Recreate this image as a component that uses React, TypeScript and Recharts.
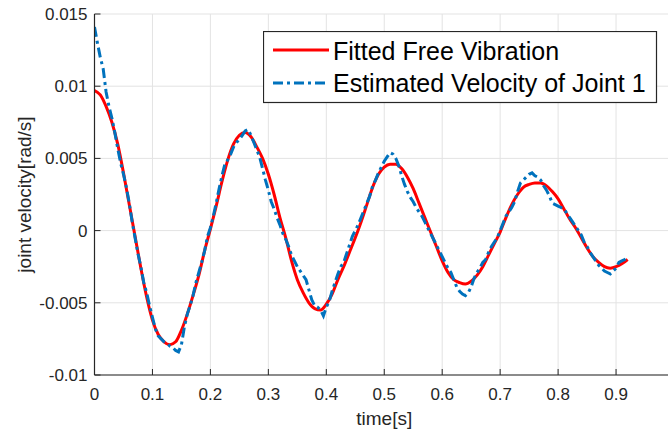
import React from 'react';
import { LineChart, Line, XAxis, YAxis, CartesianGrid, Legend, Label } from 'recharts';

const fitTime = [
  0, 0.01, 0.02, 0.03, 0.04, 0.05, 0.06, 0.07, 0.08, 0.09,
  0.1, 0.11, 0.12, 0.13, 0.14, 0.15, 0.16, 0.17, 0.18, 0.19,
  0.2, 0.21, 0.22, 0.23, 0.24, 0.25, 0.26, 0.27, 0.28, 0.29,
  0.3, 0.31, 0.32, 0.33, 0.34, 0.35, 0.36, 0.37, 0.38, 0.39,
  0.4, 0.41, 0.42, 0.43, 0.44, 0.45, 0.46, 0.47, 0.48, 0.49,
  0.5, 0.51, 0.52, 0.53, 0.54, 0.55, 0.56, 0.57, 0.58, 0.59,
  0.6, 0.61, 0.62, 0.63, 0.64, 0.65, 0.66, 0.67, 0.68, 0.69,
  0.7, 0.71, 0.72, 0.73, 0.74, 0.75, 0.76, 0.77, 0.78, 0.79,
  0.8, 0.81, 0.82, 0.83, 0.84, 0.85, 0.86, 0.87, 0.88, 0.89,
  0.9, 0.91, 0.92,
];
const fitVelocity = [
  0.0097, 0.0094, 0.0086, 0.0075, 0.006, 0.004, 0.0018, -0.0004, -0.0026, -0.0046,
  -0.0062, -0.0072, -0.0077, -0.0079, -0.0077, -0.0069, -0.0058, -0.0045, -0.0031, -0.0014,
  0.0001, 0.0017, 0.0034, 0.0049, 0.006, 0.0066, 0.0068, 0.0065, 0.0058, 0.005,
  0.0039, 0.0025, 0.0009, -0.0005, -0.0021, -0.0034, -0.0043, -0.005, -0.0054, -0.0055,
  -0.0051, -0.0044, -0.0034, -0.0025, -0.0015, -0.0005, 0.0006, 0.0018, 0.003, 0.0039,
  0.0044, 0.0046, 0.0046, 0.0043, 0.0037, 0.0029, 0.0019, 0.0009, -0.0001, -0.0011,
  -0.0021, -0.0029, -0.0034, -0.0036, -0.0037, -0.0035, -0.0031, -0.0025, -0.0017, -0.0009,
  -0.0001, 0.0009, 0.0018, 0.0025, 0.003, 0.0032, 0.0033, 0.0033, 0.0031, 0.0027,
  0.0022, 0.0015, 0.0008, 0.0002, -0.0005, -0.0012, -0.0018, -0.0022, -0.0025, -0.0026,
  -0.0025, -0.0023, -0.002,
];

const estTime = [
  0, 0.005, 0.01, 0.015, 0.02, 0.025, 0.03, 0.035, 0.04, 0.045,
  0.05, 0.055, 0.06, 0.065, 0.07, 0.075, 0.08, 0.085, 0.09, 0.095,
  0.1, 0.105, 0.11, 0.115, 0.12, 0.125, 0.13, 0.135, 0.14, 0.145,
  0.15, 0.155, 0.16, 0.165, 0.17, 0.175, 0.18, 0.185, 0.19, 0.195,
  0.2, 0.205, 0.21, 0.215, 0.22, 0.225, 0.23, 0.235, 0.24, 0.245,
  0.25, 0.255, 0.26, 0.265, 0.27, 0.275, 0.28, 0.285, 0.29, 0.295,
  0.3, 0.305, 0.31, 0.315, 0.32, 0.325, 0.33, 0.335, 0.34, 0.345,
  0.35, 0.355, 0.36, 0.365, 0.37, 0.375, 0.38, 0.385, 0.39, 0.395,
  0.4, 0.405, 0.41, 0.415, 0.42, 0.425, 0.43, 0.435, 0.44, 0.445,
  0.45, 0.455, 0.46, 0.465, 0.47, 0.475, 0.48, 0.485, 0.49, 0.495,
  0.5, 0.505, 0.51, 0.515, 0.52, 0.525, 0.53, 0.535, 0.54, 0.545,
  0.55, 0.555, 0.56, 0.565, 0.57, 0.575, 0.58, 0.585, 0.59, 0.595,
  0.6, 0.605, 0.61, 0.615, 0.62, 0.625, 0.63, 0.635, 0.64, 0.645,
  0.65, 0.655, 0.66, 0.665, 0.67, 0.675, 0.68, 0.685, 0.69, 0.695,
  0.7, 0.705, 0.71, 0.715, 0.72, 0.725, 0.73, 0.735, 0.74, 0.745,
  0.75, 0.755, 0.76, 0.765, 0.77, 0.775, 0.78, 0.785, 0.79, 0.795,
  0.8, 0.805, 0.81, 0.815, 0.82, 0.825, 0.83, 0.835, 0.84, 0.845,
  0.85, 0.855, 0.86, 0.865, 0.87, 0.875, 0.88, 0.885, 0.89, 0.895,
  0.9, 0.905, 0.91, 0.915, 0.92,
];
const estVelocity = [
  0.0141, 0.013, 0.012, 0.0112, 0.0096, 0.0086, 0.0078, 0.0068, 0.0057, 0.0047,
  0.0039, 0.003, 0.0019, 0.0006, -0.0005, -0.0016, -0.0025, -0.0036, -0.0043, -0.0052,
  -0.006, -0.0068, -0.0073, -0.0075, -0.0077, -0.0078, -0.008, -0.0081, -0.0083, -0.0084,
  -0.0079, -0.0067, -0.0058, -0.0052, -0.0045, -0.0036, -0.0029, -0.0022, -0.0014, -0.0004,
  0.0002, 0.001, 0.0019, 0.0029, 0.0038, 0.0046, 0.0049, 0.0053, 0.0058, 0.0061,
  0.0063, 0.0066, 0.0069, 0.007, 0.0066, 0.0061, 0.0056, 0.0051, 0.0043, 0.0035,
  0.0028, 0.002, 0.0015, 0.0009, 0.0004, -0.0002, -0.0006, -0.0011, -0.0017, -0.0021,
  -0.0025, -0.0028, -0.0031, -0.0034, -0.0041, -0.0048, -0.0052, -0.0053, -0.0055, -0.0059,
  -0.0053, -0.0049, -0.0042, -0.0036, -0.003, -0.0025, -0.0022, -0.0016, -0.001, -0.0004,
  0, 0.0004, 0.0009, 0.0014, 0.0019, 0.0024, 0.0031, 0.0035, 0.004, 0.0044,
  0.0048, 0.0051, 0.0054, 0.0053, 0.005, 0.0045, 0.0038, 0.0032, 0.0027, 0.0023,
  0.002, 0.0016, 0.0013, 0.001, 0.0006, 0.0002, -0.0002, -0.0006, -0.001, -0.0014,
  -0.0018, -0.0022, -0.0026, -0.0029, -0.0034, -0.0039, -0.0042, -0.0044, -0.0045, -0.0043,
  -0.0039, -0.0033, -0.0029, -0.0026, -0.0022, -0.002, -0.0015, -0.0011, -0.0008, -0.0005,
  0, 0.0005, 0.001, 0.0013, 0.0016, 0.002, 0.0027, 0.0033, 0.0035, 0.0037,
  0.0039, 0.004, 0.0038, 0.0037, 0.0035, 0.0031, 0.0028, 0.0024, 0.0019, 0.0018,
  0.0017, 0.0016, 0.0015, 0.0012, 0.0009, 0.0006, 0.0003, 0, -0.0003, -0.0008,
  -0.0011, -0.0015, -0.0018, -0.0021, -0.0024, -0.0026, -0.0028, -0.0029, -0.003, -0.0028,
  -0.0026, -0.0022, -0.0021, -0.002, -0.0019,
];

const xTicks = [0, 0.1, 0.2, 0.3, 0.4, 0.5, 0.6, 0.7, 0.8, 0.9, 1];
const xTickLabels = ['0', '0.1', '0.2', '0.3', '0.4', '0.5', '0.6', '0.7', '0.8', '0.9', ''];
const yTicks = [-0.01, -0.005, 0, 0.005, 0.01, 0.015];
const yTickLabels = ['-0.01', '-0.005', '0', '0.005', '0.01', '0.015'];
const seriesNames = ['Fitted Free Vibration', 'Estimated Velocity of Joint 1'];
const xAxisTitle = 'time[s]';
const yAxisTitle = 'joint velocity[rad/s]';

const fitData = fitTime.map((t, i) => ({ t, v: fitVelocity[i] }));
const estData = estTime.map((t, i) => ({ t, v: estVelocity[i] }));

const AX = '#262626';
const FONT = '"Liberation Sans", Arial, Helvetica, sans-serif';
const RED = '#ff0000';
const BLUE = '#0072bd';
const BLUE_DASH = '10 4 3 4';

const XTick = (props: any) => {
  const { x, y, payload, index } = props;
  const label = xTickLabels[index] ?? String(payload.value);
  return (
    <g>
      <line x1={x} x2={x} y1={y} y2={y - 6} stroke={AX} strokeWidth={1} />
      {label ? (
        <text x={x} y={y + 25} textAnchor="middle" fontSize={17} fill={AX} fontFamily={FONT}>
          {label}
        </text>
      ) : null}
    </g>
  );
};

const TopTick = (props: any) => {
  const { x, y } = props;
  return <line x1={x} x2={x} y1={y} y2={y + 6} stroke={AX} strokeWidth={1} />;
};

const YTick = (props: any) => {
  const { x, y, payload, index } = props;
  const label = yTickLabels[index] ?? String(payload.value);
  return (
    <g>
      <line x1={x} x2={x + 6} y1={y} y2={y} stroke={AX} strokeWidth={1} />
      <text x={x - 7} y={y + 6} textAnchor="end" fontSize={17} fill={AX} fontFamily={FONT}>
        {label}
      </text>
    </g>
  );
};

const LegendBox = () => (
  <svg width={395} height={73} style={{ display: 'block' }}>
    <rect x={0.5} y={0.5} width={393} height={71} fill="#ffffff" stroke={AX} strokeWidth={1.2} />
    <line x1={10} x2={66} y1={19} y2={19} stroke={RED} strokeWidth={3} />
    <text x={70} y={29} fontSize={25} fill="#000" fontFamily={FONT}>{seriesNames[0]}</text>
    <line x1={10} x2={66} y1={52} y2={52} stroke={BLUE} strokeWidth={3} strokeDasharray={BLUE_DASH} />
    <text x={70} y={61} fontSize={25} fill="#000" fontFamily={FONT}>{seriesNames[1]}</text>
  </svg>
);

export default function App() {
  return (
    <div style={{ position: 'fixed', left: 0, top: 0, width: 668, height: 432, overflow: 'hidden', background: '#fff' }}>
      <LineChart width={688} height={432} margin={{ top: 14, right: 14, left: 8, bottom: 0 }}>
        <CartesianGrid stroke="#e3e3e3" strokeWidth={1} />
        <XAxis
          dataKey="t"
          type="number"
          domain={[0, 1]}
          ticks={xTicks}
          allowDataOverflow
          height={57}
          tickSize={0}
          tickMargin={0}
          tickLine={false}
          axisLine={{ stroke: AX, strokeWidth: 1.2 }}
          tick={<XTick />}
          interval={0}
        >
          <Label
            content={(p: any) => {
              const vb = p.viewBox || {};
              return (
                <text x={vb.x + vb.width / 2} y={425} textAnchor="middle" fontSize={19} fill={AX} fontFamily={FONT}>
                  {xAxisTitle}
                </text>
              );
            }}
          />
        </XAxis>
        <XAxis
          xAxisId="top"
          orientation="top"
          dataKey="t"
          type="number"
          domain={[0, 1]}
          ticks={xTicks}
          allowDataOverflow
          height={0}
          tickSize={0}
          tickMargin={0}
          tickLine={false}
          axisLine={{ stroke: AX, strokeWidth: 1.2 }}
          tick={<TopTick />}
          interval={0}
        />
        <YAxis
          type="number"
          domain={[-0.01, 0.015]}
          ticks={yTicks}
          allowDataOverflow
          width={86.5}
          tickSize={0}
          tickMargin={0}
          tickLine={false}
          axisLine={{ stroke: AX, strokeWidth: 1.2 }}
          tick={<YTick />}
          interval={0}
        >
          <Label
            content={(p: any) => {
              const vb = p.viewBox || {};
              const cy = vb.y + vb.height / 2;
              return (
                <text
                  transform={`translate(31, ${cy}) rotate(-90)`}
                  x={0}
                  y={0}
                  textAnchor="middle"
                  fontSize={19}
                  fill={AX}
                  fontFamily={FONT}
                >
                  {yAxisTitle}
                </text>
              );
            }}
          />
        </YAxis>
        <Legend
          layout="vertical"
          align="center"
          verticalAlign="middle"
          wrapperStyle={{ left: 263, top: 31, width: 395, height: 73 }}
          content={() => <LegendBox />}
        />
        <Line
          data={fitData}
          dataKey="v"
          name={seriesNames[0]}
          stroke={RED}
          strokeWidth={3}
          dot={false}
          type="monotone"
          isAnimationActive={false}
        />
        <Line
          data={estData}
          dataKey="v"
          name={seriesNames[1]}
          stroke={BLUE}
          strokeWidth={3}
          strokeDasharray={BLUE_DASH}
          dot={false}
          type="linear"
          isAnimationActive={false}
        />
      </LineChart>
    </div>
  );
}
